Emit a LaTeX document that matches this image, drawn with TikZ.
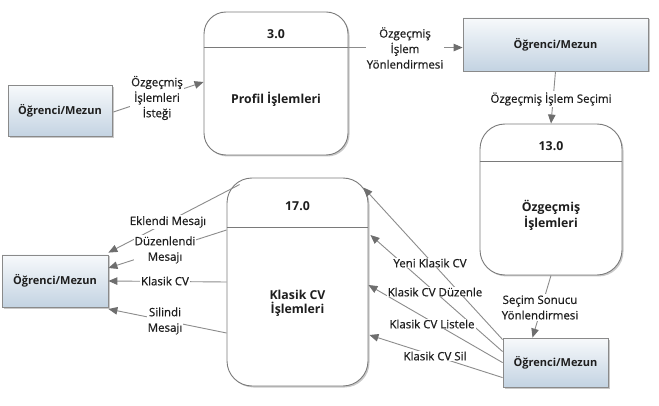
\documentclass[tikz,border=0pt]{standalone}
\usepackage{fontspec}
\setmainfont{Open Sans}
\newfontfamily\lblfont[FakeBold=0.6]{Open Sans}
\usetikzlibrary{arrows.meta,shadows,calc}
\definecolor{linegray}{HTML}{8C8C8C}
\definecolor{tipgray}{HTML}{6E6E6E}
\definecolor{entborder}{HTML}{8A8A8A}
\definecolor{enttop}{HTML}{F7F9FB}
\definecolor{entbot}{HTML}{C3D3E2}
\definecolor{procborder}{HTML}{7A7A7A}
\definecolor{textc}{HTML}{1E1E1E}
\begin{document}
\begin{tikzpicture}[x=1pt,y=-1pt,
  shd/.style={drop shadow={shadow xshift=1.5pt,shadow yshift=-1.5pt,opacity=0.35,fill=black!60}},
  ent/.style={draw=entborder,line width=0.8pt,top color=enttop,bottom color=entbot,
    font=\bfseries\fontsize{11}{13}\selectfont,text=textc,shd,inner sep=0pt},
  proc/.style={draw=procborder,line width=0.9pt,fill=white,rounded corners=22pt,shd,inner sep=0pt},
  ptitle/.style={font=\bfseries\fontsize{12.3}{14}\selectfont,text=textc,align=center},
  flow/.style={draw=linegray,line width=0.9pt,-{Triangle[length=9pt,width=7.5pt,color=tipgray]}},
  lbl/.style={fill=white,inner sep=1pt,font=\lblfont\fontsize{11.5}{15.5}\selectfont,align=center,text=textc}]
\useasboundingbox (0,0) rectangle (659,406);
\fill[white] (0,0) rectangle (659,406);

% entities
\node[ent,minimum width=104pt,minimum height=51pt] (e1) at (60,111) {Öğrenci/Mezun};
\node[ent,minimum width=185pt,minimum height=53pt] (e2) at (555.5,44.5) {Öğrenci/Mezun};
\node[ent,minimum width=105pt,minimum height=49pt] (e3) at (555.5,362.5) {Öğrenci/Mezun};
\node[ent,minimum width=106pt,minimum height=52pt] (e4) at (55,281) {Öğrenci/Mezun};

% processes
\node[proc,minimum width=144pt,minimum height=143pt] (p3) at (276,83.5) {};
\node[proc,minimum width=142pt,minimum height=151pt,rounded corners=25pt] (p13) at (551,199.5) {};
\node[proc,minimum width=141pt,minimum height=208pt,rounded corners=25pt] (p17) at (297.5,282) {};

\coordinate (p3dl) at ($(p3.north west)+(0,36)$);
\coordinate (p3dr) at ($(p3.north east)+(0,36)$);
\draw[procborder,line width=0.9pt] (p3dl) -- (p3dr);
\draw[procborder,line width=0.9pt] ($(p13.north west)+(0,38)$) -- ($(p13.north east)+(0,38)$);
\draw[procborder,line width=0.9pt] ($(p17.north west)+(0,50)$) -- ($(p17.north east)+(0,50)$);

\node[ptitle] (t3) at ($(p3.north)+(0,23)$) {3.0};
\node[ptitle] (n3) at ($(p3.center)+(0,15.5)$) {Profil İşlemleri};
\node[ptitle] (t13) at ($(p13.north)+(0,23)$) {13.0};
\node[ptitle] (n13) at ($(p13.center)+(0,16)$) {Özgeçmiş\\İşlemleri};
\node[ptitle] (t17) at ($(p17.north)+(0,29)$) {17.0};
\node[ptitle] (n17) at ($(p17.center)+(0,21)$) {Klasik CV\\İşlemleri};

% flows
\draw[flow] ($(e1.east)+(1,1)$) -- ($(p3.west)+(0,-1.5)$);
\draw[flow] (p3dr) -- (p3dr -| e2.west);
\draw[flow] ($(e2.south)+(0,0)$) -- ($(p13.north)+(0,0)$);
\draw[flow] (p13.south) -- ($(e3.north)+(-23,0)$);

\draw[flow] ($(e3.north west)+(0,2)$) -- ($(p17.north east)+(-5,10)$);
\draw[flow] ($(e3.north west)+(0,14)$) -- ($(p17.east)+(2,-47)$);
\draw[flow] ($(e3.north west)+(0,25)$) -- ($(p17.east)+(0,3)$);
\draw[flow] ($(e3.north west)+(0,40)$) -- ($(p17.east)+(1,53)$);

\draw[flow] ($(p17.north west)+(13,7)$) -- ($(e4.north east)+(0,-2)$);
\draw[flow] ($(p17.west)+(0,-52)$) -- ($(e4.east)+(0,-13)$);
\draw[flow] (p17.west) -- (e4.east);
\draw[flow] ($(p17.west)+(0,51)$) -- ($(e4.east)+(0,28)$);

% labels
\node[lbl] (l1) at (157,98) {Özgeçmiş\\İşlemleri\\İsteği};
\node[lbl] (l2) at (405,48) {Özgeçmiş\\İşlem\\Yönlendirmesi};
\node[lbl] (l3) at (551,99) {Özgeçmiş İşlem Seçimi};
\node[lbl] (l4) at (540,307.5) {Seçim Sonucu\\Yönlendirmesi};
\node[lbl] (l5) at (430,263) {Yeni Klasik CV};
\node[lbl] (l6) at (435,292) {Klasik CV Düzenle};
\node[lbl] (l7) at (432,324) {Klasik CV Listele};
\node[lbl] (l8) at (435,356) {Klasik CV Sil};
\node[lbl] (l9) at (168,222) {Eklendi Mesajı};
\node[lbl] (l10) at (165,250) {Düzenlendi\\Mesajı};
\node[lbl] (l11) at (165,281) {Klasik CV};
\node[lbl] (l12) at (165,321) {Silindi\\Mesajı};
\end{tikzpicture}
\end{document}
